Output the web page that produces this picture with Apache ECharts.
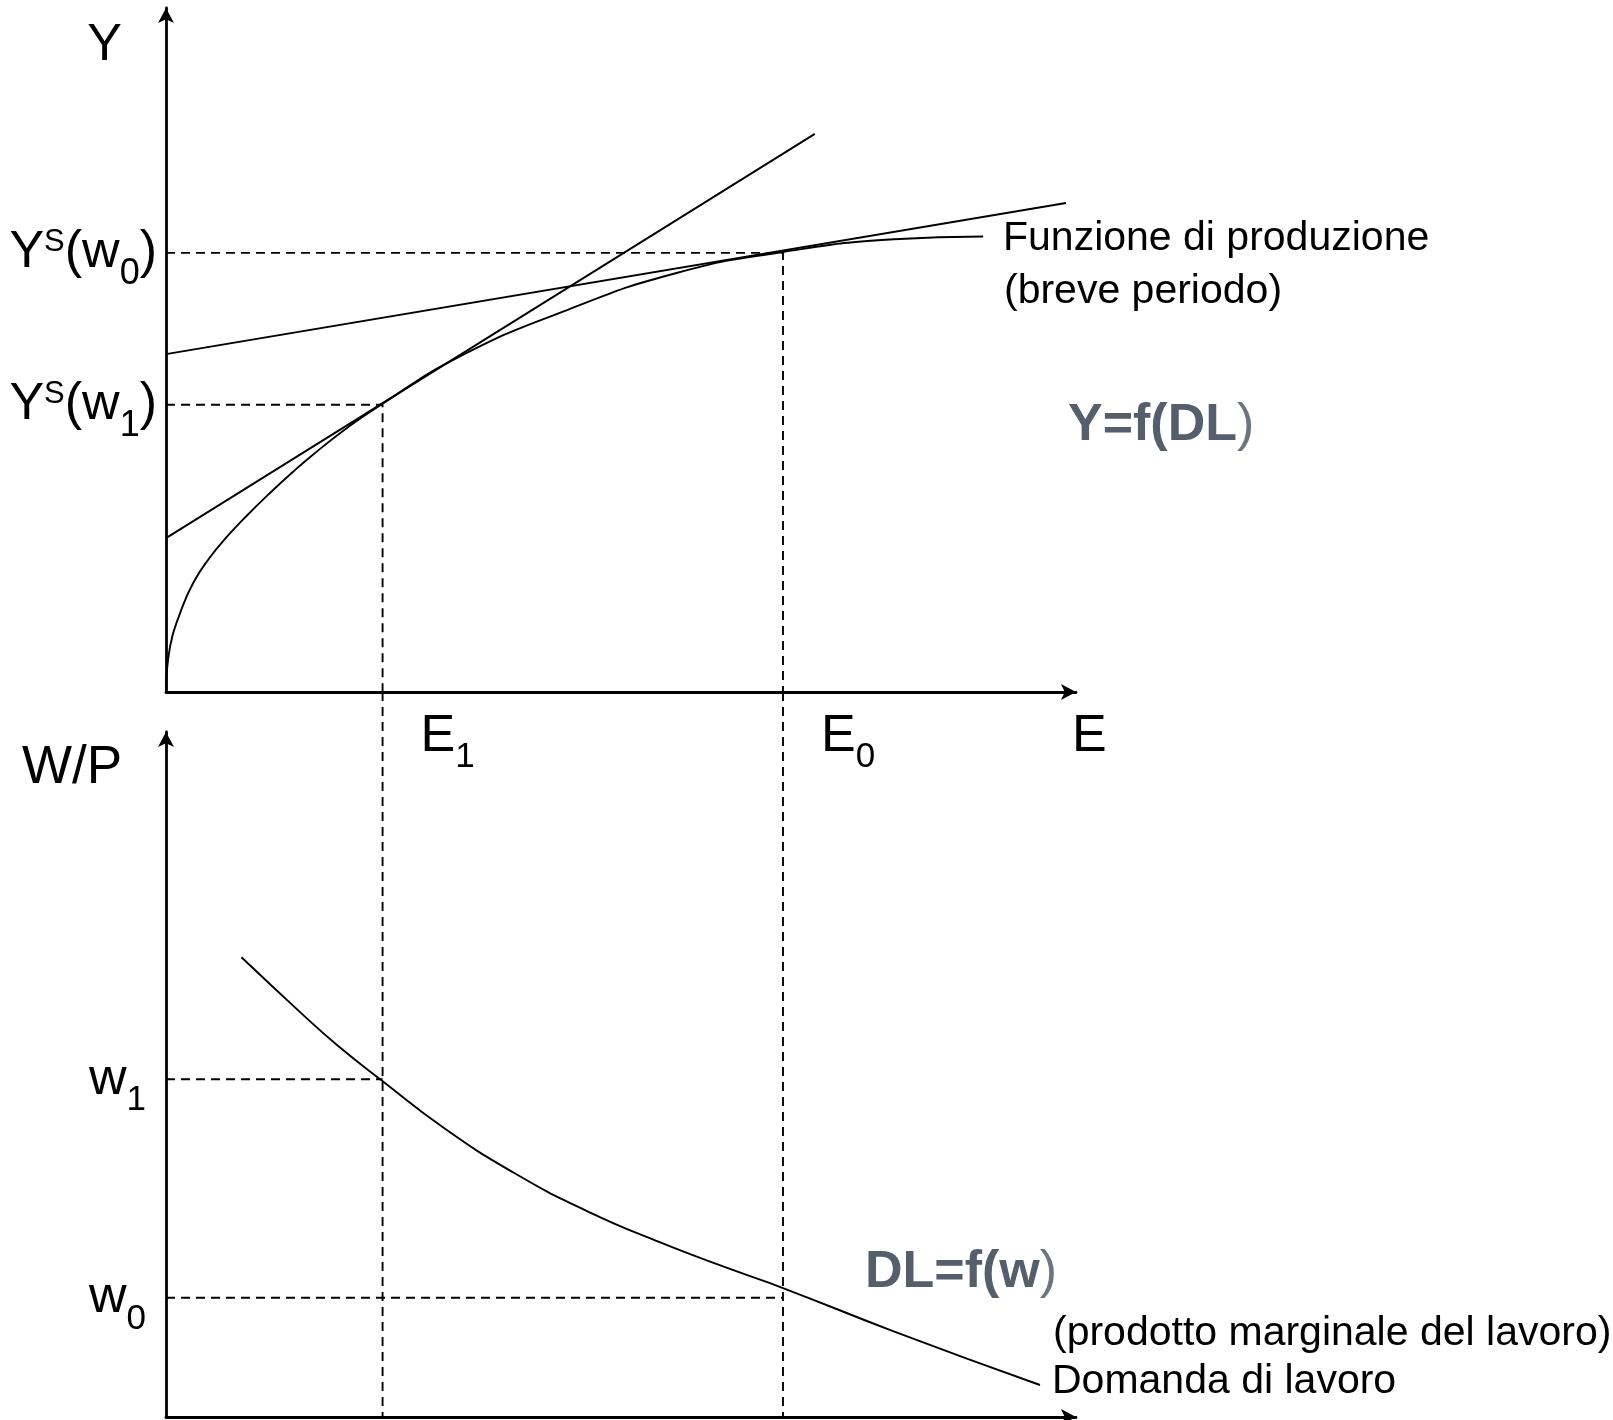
<!DOCTYPE html>
<html>
<head>
<meta charset="utf-8">
<title>Funzione di produzione e domanda di lavoro</title>
<script src="https://cdn.jsdelivr.net/npm/echarts@6/dist/echarts.min.js"></script>
<style>
  html, body { margin: 0; padding: 0; background: #fff; }
  #chart { width: 1613px; height: 1420px; }
</style>
</head>
<body>
<div id="chart"></div>
<script>
// livelli di occupazione, produzione e salario reale (unita' arbitrarie 0-100)
const E1 = 23.8, E0 = 67.8;
const ysW1 = 42.0, ysW0 = 64.2;
const w1 = 49.3, w0 = 17.4;

// funzione di produzione (breve periodo)
const prodE = [0, 0.44, 1.54, 2.97, 4.84, 6.7, 8.9, 11.43, 13.96, 16.15, 19.89, 23.5, 32.2, 44.0, 56.2, 67.7, 80.0, 89.8];
const prodY = [0, 6.6, 11.5, 15.9, 19.7, 22.7, 25.8, 29.1, 32.2, 34.7, 38.6, 41.9, 49.0, 55.8, 61.3, 64.3, 66.2, 66.6];

// rette tangenti
const tanSteepE = [0, 71.3], tanSteepY = [22.5, 81.6];
const tanFlatE = [0, 98.9], tanFlatY = [49.4, 71.5];

// domanda di lavoro
const demE = [8.29, 14.88, 18.79, 23.85, 30.55, 38.46, 46.26, 54.18, 61.98, 67.8, 79.89, 96.04];
const demW = [67.11, 58.93, 54.31, 48.98, 42.19, 35.47, 30.07, 25.55, 21.61, 18.83, 12.55, 4.67];

// etichette
const topYTicks = [ysW1, ysW0];
const topYLabels = [['Y', 'S', '(w', '1', ')'], ['Y', 'S', '(w', '0', ')']];
const botYTicks = [w1, w0];
const botYLabels = [['w', '1'], ['w', '0']];
const xTicks = [E1, E0];
const xLabels = [['E', '1'], ['E', '0']];

const FONT = "'Liberation Sans', Arial, Helvetica, sans-serif";
const GREY = '#555e6b';

const topGrid = { left: 166, top: 8, width: 910, height: 684 };
const botGrid = { left: 166, top: 732, width: 910, height: 685 };
// valore di W/P alla quota dell'asse E superiore (per far proseguire le tratteggiate)
const gapTopW = 100 * (botGrid.top + botGrid.height - (topGrid.top + topGrid.height)) / botGrid.height;

const zip = (xs, ys) => xs.map((x, i) => [x, ys[i]]);

const richFor = (subSize, subPad) => ({
  m: { fontFamily: FONT, fontSize: 52, lineHeight: 52, color: '#000', verticalAlign: 'top' },
  sup: { fontFamily: FONT, fontSize: 31, lineHeight: 31, color: '#000', verticalAlign: 'top', padding: [0, 0, 0, 0] },
  sub: { fontFamily: FONT, fontSize: subSize, lineHeight: subSize, color: '#000', verticalAlign: 'top', padding: [subPad, 0, 0, 0] }
});

function labelFmt(ticks, labels) {
  return function (v) {
    const i = ticks.findIndex(t => Math.abs(t - v) < 1e-6);
    if (i < 0) return '';
    const p = labels[i];
    if (p.length === 5) return `{m|${p[0]}}{sup|${p[1]}}{m|${p[2]}}{sub|${p[3]}}{m|${p[4]}}`;
    return `{m|${p[0]}}{sub|${p[1]}}`;
  };
}

const axisLine = {
  show: true,
  symbol: ['none', 'arrow'],
  symbolSize: [12, 15],
  lineStyle: { color: '#000', width: 2.8 }
};

const solid = { color: '#000', width: 1.9 };
const dashed = { color: '#000', width: 1.9, type: [9, 6] };

function line(xAxisIndex, data, style, smooth) {
  return {
    type: 'line', xAxisIndex, yAxisIndex: xAxisIndex, data,
    showSymbol: false, symbol: 'none',
    smooth: smooth || false,
    lineStyle: style, clip: false, silent: true, z: 3
  };
}

const chart = echarts.init(document.getElementById('chart'));

chart.setOption({
  animation: false,
  backgroundColor: '#fff',
  grid: [
    Object.assign({ outerBoundsMode: 'none', containLabel: false }, topGrid),
    Object.assign({ outerBoundsMode: 'none', containLabel: false }, botGrid)
  ],
  xAxis: [
    {
      gridIndex: 0, type: 'value', min: 0, max: 100,
      axisLine, axisTick: { show: false }, splitLine: { show: false },
      axisLabel: {
        customValues: xTicks, formatter: labelFmt(xTicks, xLabels),
        align: 'left', verticalAlign: 'top', margin: 19, padding: [0, 0, 0, 38],
        rich: richFor(35, 29)
      }
    },
    {
      gridIndex: 1, type: 'value', min: 0, max: 100,
      axisLine, axisTick: { show: false }, splitLine: { show: false },
      axisLabel: { show: false }
    }
  ],
  yAxis: [
    {
      gridIndex: 0, type: 'value', min: 0, max: 100,
      axisLine, axisTick: { show: false }, splitLine: { show: false },
      axisLabel: {
        customValues: topYTicks, formatter: labelFmt(topYTicks, topYLabels),
        align: 'right', verticalAlign: 'middle', margin: 9,
        rich: richFor(36, 29)
      }
    },
    {
      gridIndex: 1, type: 'value', min: 0, max: 100,
      axisLine, axisTick: { show: false }, splitLine: { show: false },
      axisLabel: {
        customValues: botYTicks, formatter: labelFmt(botYTicks, botYLabels),
        align: 'right', verticalAlign: 'middle', margin: 20,
        rich: richFor(35, 30)
      }
    }
  ],
  series: [
    line(0, zip(prodE, prodY), solid, 0.5),
    line(0, zip(tanSteepE, tanSteepY), solid),
    line(0, zip(tanFlatE, tanFlatY), solid),
    line(0, [[0, ysW1], [E1, ysW1], [E1, 0]], dashed),
    line(0, [[0, ysW0], [E0, ysW0], [E0, 0]], dashed),
    line(1, zip(demE, demW), solid, 0.5),
    line(1, [[0, w1], [E1, w1]], dashed),
    line(1, [[0, w0], [E0, w0]], dashed),
    line(1, [[E1, gapTopW], [E1, 0]], dashed),
    line(1, [[E0, gapTopW], [E0, 0]], dashed)
  ],
  graphic: [
    { type: 'text', x: 104.5, y: 45.5, style: { text: 'Y', font: `52px ${FONT}`, fill: '#000', align: 'center', verticalAlign: 'middle' } },
    { type: 'text', x: 72, y: 768.5, style: { text: 'W/P', font: `53px ${FONT}`, fill: '#000', align: 'center', verticalAlign: 'middle' } },
    { type: 'text', x: 1072, y: 737, style: { text: 'E', font: `52px ${FONT}`, fill: '#000', align: 'left', verticalAlign: 'middle' } },
    { type: 'text', x: 1003, y: 238.4, style: { text: 'Funzione di produzione', font: `41px ${FONT}`, fill: '#000', align: 'left', verticalAlign: 'middle' } },
    { type: 'text', x: 1004, y: 292, style: { text: '(breve periodo)', font: `41px ${FONT}`, fill: '#000', align: 'left', verticalAlign: 'middle' } },
    {
      type: 'text', x: 1068, y: 426,
      style: {
        text: '{b|Y=f(DL}{t|)}', align: 'left', verticalAlign: 'middle',
        rich: {
          b: { font: `bold 52px ${FONT}`, fill: GREY },
          t: { font: `52px ${FONT}`, fill: '#6b7480' }
        }
      }
    },
    {
      type: 'text', x: 865, y: 1273,
      style: {
        text: '{b|DL=f(w}{t|)}', align: 'left', verticalAlign: 'middle',
        rich: {
          b: { font: `bold 52px ${FONT}`, fill: GREY },
          t: { font: `52px ${FONT}`, fill: '#6b7480' }
        }
      }
    },
    { type: 'text', x: 1053, y: 1334, style: { text: '(prodotto marginale del lavoro)', font: `41px ${FONT}`, fill: '#000', align: 'left', verticalAlign: 'middle' } },
    { type: 'text', x: 1052, y: 1382, style: { text: 'Domanda di lavoro', font: `41px ${FONT}`, fill: '#000', align: 'left', verticalAlign: 'middle' } }
  ]
});

window.onresize = function () {
  chart.resize();
};
</script>
</body>
</html>
